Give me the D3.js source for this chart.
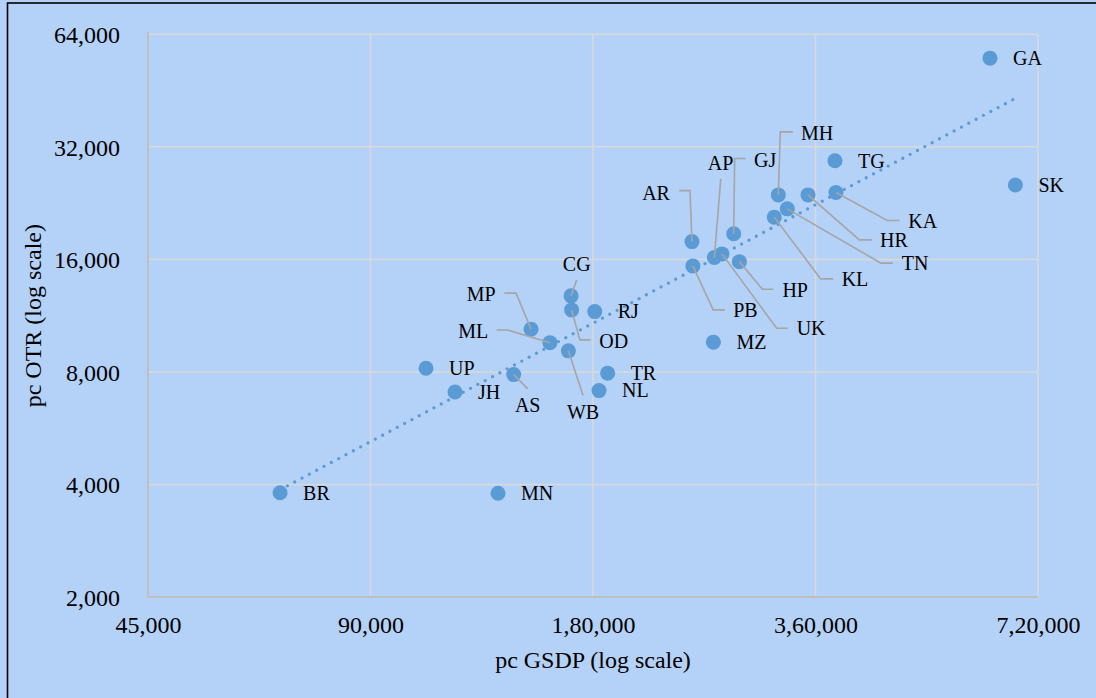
<!DOCTYPE html>
<html>
<head>
<meta charset="utf-8">
<script src="https://cdn.jsdelivr.net/npm/d3@7"></script>
<style>
    html, body { margin: 0; padding: 0; background: #b4d1f7; }
    svg { display: block; }
    text { font-family: "Liberation Serif", "Times New Roman", serif; fill: #000; }
</style>
</head>
<body>
<svg id="chart" width="1096" height="698"></svg>
<script>

// Data
const states = ['GA', 'SK', 'TG', 'KA', 'HR', 'MH', 'TN', 'KL', 'GJ', 'HP', 'UK', 'AP', 'AR', 'PB',
    'MZ', 'RJ', 'CG', 'OD', 'TR', 'NL', 'WB', 'ML', 'MP', 'AS', 'JH', 'UP', 'MN', 'BR'];
const gsdp = [620000, 671000, 382500, 383700, 351700, 320600, 329700, 316600, 279000, 284000, 269000, 262700, 245000, 245700,
    261900, 181000, 168100, 168400, 188400, 183400, 166700, 157400, 148400, 140600, 117100, 107000, 133900, 67900];
const otr = [55260, 25300, 29360, 24150, 23800, 23800, 21840, 20750, 18730, 15780, 16550, 16180, 17850, 15370,
    9610, 11600, 12780, 11720, 7940, 7130, 9110, 9580, 10410, 7870, 7070, 8180, 3790, 3800];

const xTicks = [45000, 90000, 180000, 360000, 720000];
const yTicks = [2000, 4000, 8000, 16000, 32000, 64000];

// power trendline end points (as drawn)
const trendX = [67900, 671000];
const trendY = [3872, 43140];

// Layout
const LEFT = 148, RIGHT = 1038, TOP = 34.3, BOTTOM = 597;
const DOT_R = 7.5;
const BLUE = '#5b9bd5';

// label placement relative to the point: text offset, anchor and leader elbow
const labelLayout = {
    MH: { dx: 22.7, dy: -61.7, anchor: 'start', leader: [[14.4, -63], [2, -63]] },
    GJ: { dx: 20.3, dy: -73.2, anchor: 'start', leader: [[12, -75.3], [1, -75.3]] },
    AP: { dx: 6.2, dy: -94.4, anchor: 'middle', leader: [[6.4, -78.7]] },
    AR: { dx: -22, dy: -48.7, anchor: 'end', leader: [[-12.7, -51], [-2, -51]] },
    KA: { dx: 72.3, dy: 28.6, anchor: 'start', leader: [[63.3, 28], [51.3, 28]] },
    HR: { dx: 72, dy: 45.7, anchor: 'start', leader: [[63.7, 45], [51.3, 45]] },
    TN: { dx: 114.4, dy: 54, anchor: 'start', leader: [[105.4, 54.3], [93.7, 54.3]] },
    KL: { dx: 67.4, dy: 61.7, anchor: 'start', leader: [[59, 61.7], [46.4, 61.7]] },
    HP: { dx: 43, dy: 28.3, anchor: 'start', leader: [[34, 27.6], [23, 27.6]] },
    PB: { dx: 40.3, dy: 44.7, anchor: 'start', leader: [[32, 44], [20.3, 44]] },
    UK: { dx: 74.7, dy: 74.3, anchor: 'start', leader: [[65.7, 74.3], [54.7, 74.3]] },
    CG: { dx: 5.7, dy: -31.3, anchor: 'middle', leader: [[5.7, -16]] },
    OD: { dx: 27.6, dy: 31, anchor: 'start', leader: [[19, 30], [8.3, 30]] },
    MP: { dx: -35.3, dy: -34.5, anchor: 'end', leader: [[-26.7, -36], [-15, -36]] },
    ML: { dx: -61.7, dy: -11.5, anchor: 'end', leader: [[-53.3, -12.7], [-42.7, -12.7]] },
    WB: { dx: 14.7, dy: 61.5, anchor: 'middle', leader: [[14.7, 44.7]] },
    AS: { dx: 14, dy: 31.1, anchor: 'middle', leader: [[14, 14.3]] }
};

// Indian digit grouping: 1,80,000
function indianFormat(v) {
    let s = String(Math.round(v));
    if (s.length <= 3) return s;
    let last = s.slice(-3), rest = s.slice(0, -3);
    rest = rest.replace(/\B(?=(\d{2})+(?!\d))/g, ',');
    return rest + ',' + last;
}

const svg = d3.select('#chart');

const x = d3.scaleLog().domain([45000, 720000]).range([LEFT, RIGHT]);
const y = d3.scaleLog().domain([2000, 64000]).range([BOTTOM, TOP]);

// outer border (left and top only visible)
svg.append('rect')
    .attr('x', 7.5).attr('y', 3)
    .attr('width', 1200).attr('height', 800)
    .attr('fill', 'none')
    .attr('stroke', '#000')
    .attr('stroke-width', 1.6);

// Gridlines
svg.append('g').selectAll('line').data(yTicks.slice(1)).enter()
    .append('line')
    .attr('x1', LEFT).attr('x2', RIGHT)
    .attr('y1', (d) => y(d)).attr('y2', (d) => y(d))
    .attr('stroke', '#d9d9d9').attr('stroke-width', 1.5);

svg.append('g').selectAll('line').data(xTicks.slice(1)).enter()
    .append('line')
    .attr('x1', (d) => x(d)).attr('x2', (d) => x(d))
    .attr('y1', TOP).attr('y2', BOTTOM)
    .attr('stroke', '#d9d9d9').attr('stroke-width', 1.5);

// Axes
const xAxis = svg.append('g')
    .attr('transform', 'translate(0,' + BOTTOM + ')')
    .call(d3.axisBottom(x).tickValues(xTicks).tickFormat(indianFormat).tickSize(0).tickPadding(0));
xAxis.select('.domain').remove();
xAxis.selectAll('text')
    .attr('y', 36).attr('dy', null)
    .attr('font-size', 24)
    .style('font-family', '"Liberation Serif", "Times New Roman", serif');

const yAxis = svg.append('g')
    .attr('transform', 'translate(' + LEFT + ',0)')
    .call(d3.axisLeft(y).tickValues(yTicks).tickFormat(indianFormat).tickSize(0).tickPadding(0));
yAxis.select('.domain').remove();
yAxis.selectAll('text')
    .attr('x', -28).attr('dy', '0.34em')
    .attr('font-size', 24)
    .style('font-family', '"Liberation Serif", "Times New Roman", serif');

svg.append('line')
    .attr('x1', LEFT).attr('x2', LEFT).attr('y1', TOP - 2.5).attr('y2', BOTTOM)
    .attr('stroke', '#bfbfbf').attr('stroke-width', 2);
svg.append('line')
    .attr('x1', LEFT).attr('x2', RIGHT).attr('y1', BOTTOM).attr('y2', BOTTOM)
    .attr('stroke', '#bfbfbf').attr('stroke-width', 2);

// Axis titles
svg.append('text')
    .attr('x', (LEFT + RIGHT) / 2).attr('y', 668)
    .attr('text-anchor', 'middle')
    .attr('font-size', 24)
    .text('pc GSDP (log scale)');

svg.append('text')
    .attr('transform', 'translate(41,' + (TOP + BOTTOM) / 2 + ') rotate(-90)')
    .attr('text-anchor', 'middle')
    .attr('font-size', 24)
    .text('pc OTR (log scale)');

// Trendline
svg.append('line')
    .attr('x1', x(trendX[0])).attr('y1', y(trendY[0]))
    .attr('x2', x(trendX[1])).attr('y2', y(trendY[1]))
    .attr('stroke', BLUE)
    .attr('stroke-width', 3.3)
    .attr('stroke-linecap', 'round')
    .attr('stroke-dasharray', '0 8.3');

const points = states.map((s, i) => ({ state: s, gsdp: gsdp[i], otr: otr[i] }));

// Points
svg.append('g').selectAll('circle').data(points).enter()
    .append('circle')
    .attr('cx', (d) => x(d.gsdp))
    .attr('cy', (d) => y(d.otr))
    .attr('r', DOT_R)
    .attr('fill', BLUE);

// Leader lines (drawn over the markers)
svg.append('g').selectAll('path').data(points.filter((d) => labelLayout[d.state])).enter()
    .append('path')
    .attr('d', (d) => {
        let px = x(d.gsdp), py = y(d.otr);
        let pts = labelLayout[d.state].leader.map((p) => [px + p[0], py + p[1]]);
        pts.push([px, py]);
        return d3.line()(pts);
    })
    .attr('fill', 'none')
    .attr('stroke', '#a5a5a5')
    .attr('stroke-width', 1.6);

// Labels
svg.append('g').selectAll('text').data(points).enter()
    .append('text')
    .attr('x', (d) => x(d.gsdp) + (labelLayout[d.state] ? labelLayout[d.state].dx : 23))
    .attr('y', (d) => y(d.otr) + (labelLayout[d.state] ? labelLayout[d.state].dy : 0))
    .attr('dy', '0.34em')
    .attr('text-anchor', (d) => labelLayout[d.state] ? labelLayout[d.state].anchor : 'start')
    .attr('font-size', 20)
    .text((d) => d.state);

</script>
</body>
</html>
